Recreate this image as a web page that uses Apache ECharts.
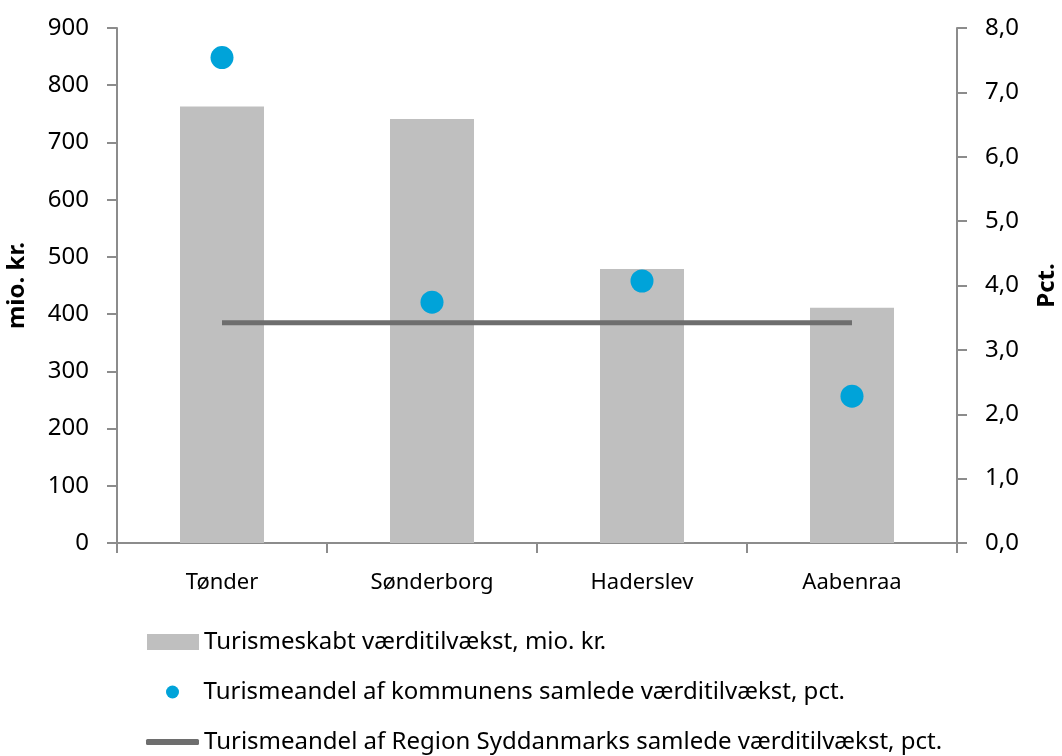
<!DOCTYPE html>
<html>
<head>
<meta charset="utf-8">
<script src="https://cdn.jsdelivr.net/npm/echarts@6/dist/echarts.min.js"></script>
<style>
	html, body { margin: 0; padding: 0; background: #fff; }
	#main { width: 1062px; height: 756px; }
</style>
</head>
<body>
<div id="main"></div>
<script>
	var kommuner = ['Tønder', 'Sønderborg', 'Haderslev', 'Aabenraa'];
	var vaerditilvaekst = [763, 741, 479, 411];      // mio. kr.
	var andelKommune = [7.54, 3.74, 4.07, 2.28];     // pct.
	var andelRegion = [3.42, 3.42, 3.42, 3.42];      // pct.
	var navne = [
		'Turismeskabt værditilvækst, mio. kr.',
		'Turismeandel af kommunens samlede værditilvækst, pct.',
		'Turismeandel af Region Syddanmarks samlede værditilvækst, pct.'
	];

	var font = 'Noto Sans';
	var axisGray = '#8c8c8c';
	var legendText = { fontFamily: font, fontSize: 24, color: '#000' };

	var myChart = echarts.init(document.getElementById('main'));
	var option = {
		animation: false,
		textStyle: { fontFamily: font },
		grid: { left: 117, right: 105, top: 28, bottom: 213, outerBoundsMode: 'none', containLabel: false },
		legend: [
			{
				left: 147, top: 630, padding: 0, itemWidth: 52, itemHeight: 16, itemGap: 0,
				data: [{ name: navne[0], icon: 'rect' }],
				textStyle: legendText
			},
			{
				left: 166, top: 680, padding: 0, itemWidth: 52, itemHeight: 13, itemGap: 0,
				data: [{ name: navne[1], icon: 'circle' }],
				textStyle: legendText
			},
			{
				left: 146, top: 730, padding: 0, itemWidth: 53, itemHeight: 6, itemGap: 0,
				data: [{ name: navne[2], icon: 'roundRect' }],
				textStyle: legendText
			}
		],
		xAxis: {
			type: 'category',
			data: kommuner,
			boundaryGap: true,
			axisLine: { lineStyle: { color: axisGray, width: 2 } },
			axisTick: { show: true, length: 10, alignWithLabel: false, lineStyle: { color: axisGray, width: 2 } },
			axisLabel: { color: '#000', fontSize: 22, margin: 29 }
		},
		yAxis: [
			{
				type: 'value',
				min: 0, max: 900, interval: 100,
				name: 'mio. kr.',
				nameLocation: 'middle',
				nameRotate: 90,
				nameGap: 88,
				nameTextStyle: { fontSize: 24, fontWeight: 'bold', color: '#000' },
				splitLine: { show: false },
				axisLine: { show: true, lineStyle: { color: axisGray, width: 2 } },
				axisTick: { show: true, length: 10, lineStyle: { color: axisGray, width: 2 } },
				axisLabel: { color: '#000', fontSize: 24, margin: 28 }
			},
			{
				type: 'value',
				min: 0, max: 8, interval: 1,
				name: 'Pct.',
				nameLocation: 'middle',
				nameRotate: 90,
				nameGap: 78,
				nameTextStyle: { fontSize: 24, fontWeight: 'bold', color: '#000' },
				splitLine: { show: false },
				axisLine: { show: true, lineStyle: { color: axisGray, width: 2 } },
				axisTick: { show: true, length: 10, lineStyle: { color: axisGray, width: 2 } },
				axisLabel: {
					color: '#000', fontSize: 24, margin: 28,
					formatter: function (v) { return v.toFixed(1).replace('.', ','); }
				}
			}
		],
		series: [
			{
				name: navne[0],
				type: 'bar',
				data: vaerditilvaekst,
				barWidth: '40%',
				itemStyle: { color: '#bfbfbf' }
			},
			{
				name: navne[1],
				type: 'scatter',
				yAxisIndex: 1,
				data: andelKommune,
				symbolSize: 23,
				itemStyle: { color: '#00a3d9', opacity: 1 },
				z: 5
			},
			{
				name: navne[2],
				type: 'line',
				yAxisIndex: 1,
				data: andelRegion,
				showSymbol: false,
				symbol: 'none',
				lineStyle: { color: '#6e6e6e', width: 5 },
				itemStyle: { color: '#6e6e6e' },
				z: 4
			}
		]
	};
	myChart.setOption(option);
</script>
</body>
</html>
